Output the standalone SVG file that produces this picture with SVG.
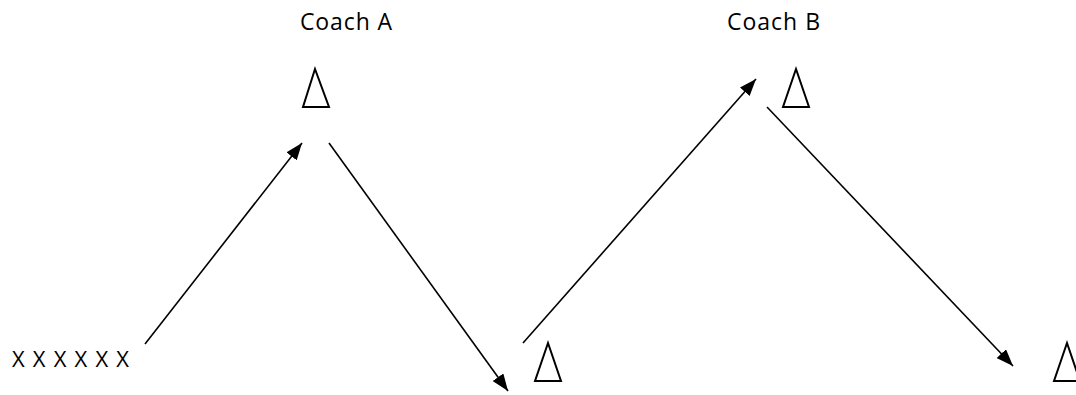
<svg xmlns="http://www.w3.org/2000/svg" width="1076" height="395" viewBox="0 0 1076 395">
<style>
.lbl{font-family:"Open Sans","Liberation Sans",sans-serif;font-size:23px;fill:#000}
.cone{fill:#fff;stroke:#000;stroke-width:2}
.conn{stroke:#000;stroke-width:1.6;fill:none;marker-end:url(#ahb)}
</style>
<defs>
<marker id="ahb" markerWidth="17" markerHeight="13" refX="17" refY="6.5" orient="auto" markerUnits="userSpaceOnUse" viewBox="0 0 17 13">
<path d="M0,0 L17,6.5 L0,13 Z" fill="#000"/>
</marker>
</defs>
<rect width="1076" height="395" fill="#fff"/>
<g id="coachA-label"><text class="lbl" x="300" y="30" textLength="92">Coach A</text></g>
<g id="coachB-label"><text class="lbl" x="727" y="30" textLength="93">Coach B</text></g>
<g id="players"><text class="lbl" x="12" y="367" style="font-size:22px" textLength="117">X X X X X X</text></g>
<g id="coneA"><polygon class="cone" points="315,69 303,107 329,107"/></g>
<g id="coneB"><polygon class="cone" points="796,69 783,107 809,107"/></g>
<g id="coneC"><polygon class="cone" points="548,343 535,381 561,381"/></g>
<g id="coneD"><polygon class="cone" points="1067,343 1054,381 1080,381"/></g>
<g id="connectors">
<line class="conn" x1="145" y1="344" x2="302" y2="143"/>
<line class="conn" x1="329" y1="143" x2="508" y2="391"/>
<line class="conn" x1="523" y1="343" x2="756" y2="79"/>
<line class="conn" x1="767" y1="107" x2="1013" y2="366"/>
</g>
</svg>
